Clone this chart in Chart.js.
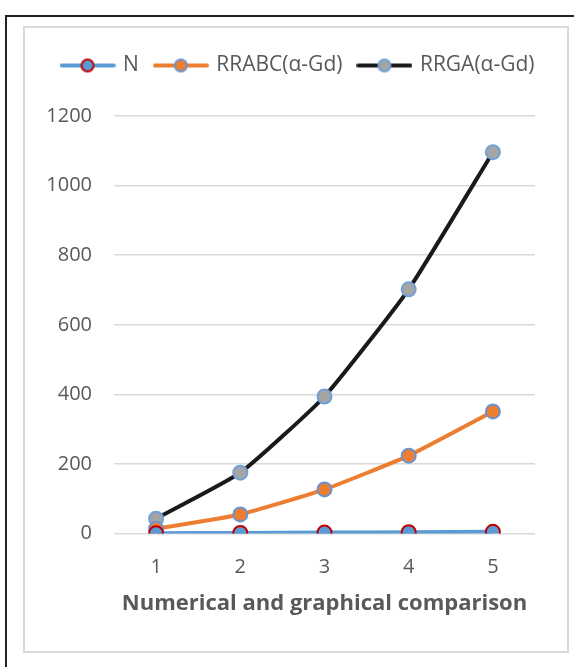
<!DOCTYPE html>
<html lang="en">
  <head>
    <meta charset="UTF-8" />
    <title>Numerical and graphical comparison</title>
    <script src="https://cdn.jsdelivr.net/npm/chart.js"></script>
    <style>
      body { margin: 0; background: #fff; }
      .outer {
        position: absolute; left: 5px; top: 15px; width: 600px; height: 700px;
        border-left: 2px solid #222; border-top: 2px solid #222;
      }
      .inner {
        position: absolute; left: 23px; top: 26px; width: 542px; height: 623px;
        border: 2px solid #d9d9d9;
      }
      .wrap { position: absolute; left: 0; top: 0; width: 574px; height: 667px; }
    </style>
  </head>
  <body>
    <div class="outer"></div>
    <div class="inner"></div>
    <div class="wrap"><canvas id="myChart"></canvas></div>

    <script>
      const categories = ["1", "2", "3", "4", "5"];
      const nValues = [1, 2, 3, 4, 5];
      const rrabcValues = [14, 55, 127, 224, 351];
      const rrgaValues = [43, 175, 394, 702, 1096];
      const yTicks = [0, 200, 400, 600, 800, 1000, 1200];

      const font = "'Open Sans', sans-serif";
      const textColor = "#595959";

      // legend icon: line with a marker on it
      function legendIcon(line, fill, border) {
        const c = document.createElement("canvas");
        c.width = 56;
        c.height = 16;
        const g = c.getContext("2d");
        g.strokeStyle = line;
        g.lineWidth = 4;
        g.lineCap = "round";
        g.beginPath();
        g.moveTo(2, 8);
        g.lineTo(54, 8);
        g.stroke();
        g.beginPath();
        g.arc(28, 8, 6, 0, Math.PI * 2);
        g.fillStyle = fill;
        g.fill();
        g.lineWidth = 2;
        g.strokeStyle = border;
        g.stroke();
        return c;
      }

      const icons = [
        legendIcon("#5B9BD5", "#5B9BD5", "#C00000"),
        legendIcon("#ED7D31", "#ED7D31", "#6C93CF"),
        legendIcon("#1A1A1A", "#A5A5A5", "#6FA0D8"),
      ];

      // extra room under the legend, and shift it right like the original
      const legendSpace = {
        id: "legendSpace",
        beforeInit(chart) {
          const fit = chart.legend.fit;
          chart.legend.fit = function () {
            fit.bind(chart.legend)();
            this.height += 30;
          };
        },
        afterLayout(chart) {
          chart.legend.left += 31;
          chart.legend.right += 31;
        },
      };

      const ctx = document.getElementById("myChart").getContext("2d");

      new Chart(ctx, {
        type: "line",
        data: {
          labels: categories,
          datasets: [
            {
              label: "N",
              data: nValues,
              borderColor: "#5B9BD5",
              backgroundColor: "#5B9BD5",
              pointBackgroundColor: "#5B9BD5",
              pointBorderColor: "#C00000",
            },
            {
              label: "RRABC(α-Gd)",
              data: rrabcValues,
              borderColor: "#ED7D31",
              backgroundColor: "#ED7D31",
              pointBackgroundColor: "#ED7D31",
              pointBorderColor: "#6C93CF",
            },
            {
              label: "RRGA(α-Gd)",
              data: rrgaValues,
              borderColor: "#1A1A1A",
              backgroundColor: "#1A1A1A",
              pointBackgroundColor: "#A5A5A5",
              pointBorderColor: "#6FA0D8",
            },
          ],
        },
        options: {
          responsive: true,
          maintainAspectRatio: false,
          animation: false,
          datasets: {
            line: {
              borderWidth: 4,
              tension: 0.15,
              pointRadius: 7,
              pointBorderWidth: 2,
            },
          },
          layout: { padding: { top: 38, left: 0, right: 39, bottom: 47 } },
          plugins: {
            legend: {
              labels: {
                usePointStyle: true,
                pointStyleWidth: 50,
                color: textColor,
                font: { family: font, size: 21 },
                padding: 17,
                generateLabels(chart) {
                  const items = Chart.defaults.plugins.legend.labels.generateLabels(chart);
                  items.forEach((it, i) => {
                    it.pointStyle = icons[i];
                  });
                  return items;
                },
              },
            },
            tooltip: { enabled: false },
          },
          scales: {
            x: {
              offset: true,
              grid: { display: false, drawTicks: false },
              border: { display: false },
              ticks: {
                color: textColor,
                font: { family: font, size: 20 },
                padding: 22,
              },
              title: {
                display: true,
                text: "Numerical and graphical comparison",
                color: textColor,
                font: { family: font, size: 22, weight: "bold" },
                padding: { top: -11, bottom: 3 },
              },
            },
            y: {
              min: 0,
              max: 1200,
              afterBuildTicks(scale) {
                scale.ticks = yTicks.map((v) => ({ value: v }));
              },
              grid: { color: "#D9D9D9", lineWidth: 1.5, drawTicks: false },
              border: { display: false },
              ticks: {
                color: textColor,
                font: { family: font, size: 20 },
                padding: 22,
                callback: (v) => String(v),
              },
              afterFit(scale) {
                scale.width = 114;
              },
            },
          },
        },
        plugins: [legendSpace],
      });
    </script>
  </body>
</html>
